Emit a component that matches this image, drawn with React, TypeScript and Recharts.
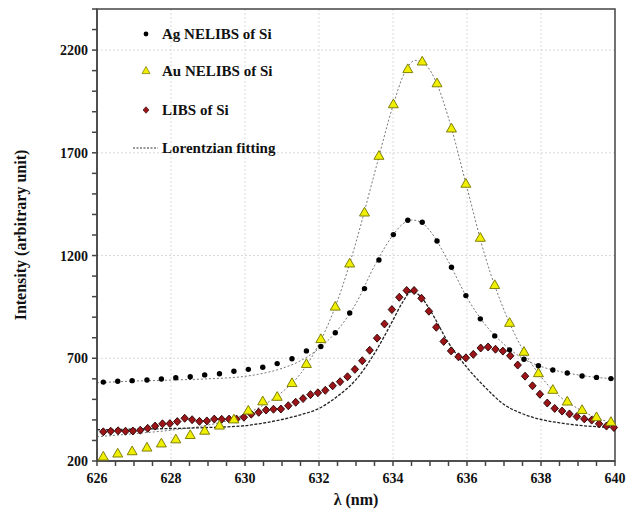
import {
  ComposedChart, Scatter, Line, XAxis, YAxis, CartesianGrid, ReferenceArea, Legend,
} from 'recharts';

// wavelength grid shared by the Ag and Au NELIBS measurements (nm)
const NELIBS_WAVELENGTH = [
  626.17, 626.56, 626.95, 627.35, 627.74, 628.13, 628.52, 628.91, 629.31, 629.70,
  630.09, 630.48, 630.87, 631.27, 631.66, 632.05, 632.44, 632.83, 633.23, 633.62,
  634.01, 634.40, 634.79, 635.19, 635.58, 635.97, 636.36, 636.75, 637.15, 637.54,
  637.93, 638.32, 638.71, 639.11, 639.50, 639.89,
];
const AG_INTENSITY = [
  584, 588, 591, 594, 599, 605, 610, 619, 625, 637,
  646, 656, 674, 698, 736, 757, 824, 920, 1039, 1178,
  1302, 1372, 1362, 1271, 1143, 1005, 892, 809, 741, 695,
  664, 643, 628, 614, 607, 601,
];
const AU_INTENSITY = [
  220, 235, 246, 264, 284, 304, 325, 346, 371, 401,
  444, 489, 511, 578, 671, 792, 950, 1160, 1408, 1684,
  1935, 2106, 2143, 2037, 1817, 1548, 1285, 1055, 871, 730,
  626, 545, 488, 447, 412, 389,
];

const LIBS_WAVELENGTH = [
  626.17, 626.37, 626.57, 626.77, 626.97, 627.17, 627.37, 627.57, 627.77, 627.97,
  628.17, 628.37, 628.57, 628.77, 628.97, 629.17, 629.37, 629.57, 629.77, 629.97,
  630.17, 630.37, 630.57, 630.77, 630.97, 631.17, 631.37, 631.57, 631.77, 631.97,
  632.17, 632.37, 632.57, 632.77, 632.97, 633.17, 633.37, 633.57, 633.77, 633.97,
  634.17, 634.37, 634.57, 634.77, 634.97, 635.17, 635.37, 635.57, 635.77, 635.97,
  636.17, 636.37, 636.57, 636.77, 636.97, 637.17, 637.37, 637.57, 637.77, 637.97,
  638.17, 638.37, 638.57, 638.77, 638.97, 639.17, 639.37, 639.57, 639.77, 639.97,
];
const LIBS_INTENSITY = [
  342, 345, 347, 345, 346, 350, 359, 370, 381, 382,
  392, 408, 401, 393, 395, 404, 403, 404, 404, 413,
  428, 437, 448, 452, 453, 469, 486, 504, 523, 532,
  544, 566, 586, 610, 646, 688, 739, 798, 867, 937,
  997, 1030, 1030, 992, 929, 851, 782, 736, 707, 702,
  719, 750, 755, 744, 735, 712, 667, 613, 566, 525,
  482, 456, 443, 429, 416, 405, 399, 381, 370, 363,
];

// Lorentzian fit curves
const AG_FIT_WAVELENGTH = [626, 627, 628, 629, 630, 630.5, 631, 631.5, 632, 632.5, 633, 633.5, 634, 634.25, 634.5, 634.75, 635, 635.5, 636, 636.5, 637, 637.5, 638, 638.5, 639, 639.5, 640];
const AG_FIT_INTENSITY = [581, 589, 594, 600, 612, 627, 651, 688, 748, 837, 967, 1150, 1300, 1352, 1373, 1363, 1320, 1170, 995, 862, 768, 700, 660, 636, 619, 607, 600];

const AU_FIT_WAVELENGTH = [626, 627, 628, 629, 629.5, 630, 630.5, 631, 631.5, 632, 632.5, 633, 633.5, 634, 634.3, 634.6, 634.9, 635.2, 635.5, 636, 636.5, 637, 637.5, 638, 638.5, 639, 639.5, 640];
const AU_FIT_INTENSITY = [318, 333, 350, 375, 395, 428, 472, 535, 625, 770, 980, 1265, 1600, 1930, 2085, 2150, 2125, 2030, 1870, 1530, 1190, 935, 745, 610, 515, 455, 410, 382];

const LIBS_FIT_WAVELENGTH = [626, 627, 628, 629, 630, 630.5, 631, 631.5, 632, 632.5, 633, 633.5, 634, 634.25, 634.5, 634.75, 635, 635.5, 636, 636.5, 637, 637.5, 638, 638.5, 639, 639.5, 640];
const LIBS_FIT_INTENSITY = [352, 355, 358, 363, 372, 385, 402, 425, 456, 515, 596, 724, 886, 970, 1024, 1000, 935, 775, 655, 557, 475, 430, 402, 386, 374, 367, 363];

const X_TICKS = [626, 626.5, 627, 627.5, 628, 628.5, 629, 629.5, 630, 630.5, 631, 631.5, 632, 632.5, 633, 633.5, 634, 634.5, 635, 635.5, 636, 636.5, 637, 637.5, 638, 638.5, 639, 639.5, 640];
const X_LABELS = [626, 628, 630, 632, 634, 636, 638, 640];
const Y_TICKS = [200, 300, 400, 500, 600, 700, 800, 900, 1000, 1100, 1200, 1300, 1400, 1500, 1600, 1700, 1800, 1900, 2000, 2100, 2200, 2300, 2400];
const Y_LABELS = [200, 700, 1200, 1700, 2200];

const LEGEND_LABELS = ['Ag NELIBS of Si', 'Au NELIBS of Si', 'LIBS of Si', 'Lorentzian fitting'];

const pairs = (xs: number[], ys: number[]) => xs.map((x, i) => ({ x, y: ys[i] }));

const agData = pairs(NELIBS_WAVELENGTH, AG_INTENSITY);
const auData = pairs(NELIBS_WAVELENGTH, AU_INTENSITY);
const libsData = pairs(LIBS_WAVELENGTH, LIBS_INTENSITY);
const agFit = pairs(AG_FIT_WAVELENGTH, AG_FIT_INTENSITY);
const auFit = pairs(AU_FIT_WAVELENGTH, AU_FIT_INTENSITY);
const libsFit = pairs(LIBS_FIT_WAVELENGTH, LIBS_FIT_INTENSITY);

const FONT = '"Liberation Serif", "Times New Roman", serif';
const AXIS_COLOR = '#444';

const tickStyle = { fontSize: 14, fontWeight: 'bold', fill: '#111', fontFamily: FONT };

function DotShape({ cx, cy }: any) {
  return <circle cx={cx} cy={cy} r={2.7} fill="#000" />;
}

function TriangleShape({ cx, cy }: any) {
  return (
    <polygon
      points={`${cx},${cy - 5.5} ${cx + 5},${cy + 3.2} ${cx - 5},${cy + 3.2}`}
      fill="#f0ef00"
      stroke="#80800a"
      strokeWidth={1}
    />
  );
}

function DiamondShape({ cx, cy }: any) {
  return (
    <polygon
      points={`${cx},${cy - 4} ${cx + 3.7},${cy} ${cx},${cy + 4} ${cx - 3.7},${cy}`}
      fill="#9c1418"
      stroke="#220000"
      strokeWidth={0.9}
    />
  );
}

function renderLegend() {
  const rowY = [18, 55, 94, 132];
  const textStyle = { fontSize: 15, fontWeight: 'bold' as const, fontFamily: FONT, fill: '#111' };
  return (
    <svg width={220} height={150}>
      <circle cx={21} cy={rowY[0]} r={2.4} fill="#000" />
      <polygon points={`21,${rowY[1] - 4.5} 25,${rowY[1] + 2.6} 17,${rowY[1] + 2.6}`} fill="#f0ef00" stroke="#80800a" strokeWidth={0.8} />
      <polygon points={`21,${rowY[2] - 3.3} 24,${rowY[2]} 21,${rowY[2] + 3.3} 18,${rowY[2]}`} fill="#9c1418" stroke="#220000" strokeWidth={0.6} />
      <line x1={8} x2={33} y1={rowY[3]} y2={rowY[3]} stroke="#333" strokeWidth={1} strokeDasharray="2 1.5" />
      {LEGEND_LABELS.map((label, i) => (
        <text key={label} x={37} y={rowY[i]} dominantBaseline="central" style={textStyle}>
          {label}
        </text>
      ))}
    </svg>
  );
}

export default function App() {
  return (
    <div style={{ position: 'absolute', left: 0, top: 0, background: '#fff' }}>
      <ComposedChart width={635} height={512} margin={{ top: 9, right: 20, bottom: 6, left: 15 }}>
        <CartesianGrid
          stroke="#dadada"
          strokeDasharray="2 2"
          horizontalValues={Y_LABELS.slice(1)}
          verticalValues={X_LABELS.slice(1, -1)}
        />
        <XAxis
          dataKey="x"
          type="number"
          domain={[626, 640]}
          ticks={X_TICKS}
          interval={0}
          tickFormatter={(v) => (X_LABELS.includes(v) ? String(v) : '')}
          tick={tickStyle}
          tickSize={5}
          tickMargin={7}
          height={45}
          stroke={AXIS_COLOR}
          strokeWidth={1.5}
          label={{ value: 'λ (nm)', position: 'insideBottom', offset: 1, style: { fontSize: 16, fontWeight: 'bold', fontFamily: FONT, fill: '#111' } }}
        />
        <YAxis
          dataKey="y"
          type="number"
          domain={[200, 2400]}
          ticks={Y_TICKS}
          interval={0}
          tickFormatter={(v) => (Y_LABELS.includes(v) ? String(v) : '')}
          tick={tickStyle}
          tickSize={5}
          tickMargin={4}
          width={82}
          stroke={AXIS_COLOR}
          strokeWidth={1.5}
          label={{ value: 'Intensity (arbitrary unit)', angle: -90, position: 'insideLeft', offset: 5, style: { textAnchor: 'middle', fontSize: 16, fontWeight: 'bold', fontFamily: FONT, fill: '#111' } }}
        />
        <ReferenceArea x1={626} x2={640} y1={200} y2={2400} fill="none" fillOpacity={0} stroke={AXIS_COLOR} strokeWidth={1.5} />
        <Legend
          layout="horizontal"
          verticalAlign="middle"
          align="center"
          wrapperStyle={{ top: 16, left: 125, width: 220 }}
          content={renderLegend}
        />
        <Line data={agFit} dataKey="y" type="monotone" stroke="#777" strokeWidth={1} strokeDasharray="2 2" dot={false} isAnimationActive={false} />
        <Line data={auFit} dataKey="y" type="monotone" stroke="#777" strokeWidth={1} strokeDasharray="2 2" dot={false} isAnimationActive={false} />
        <Line data={libsFit} dataKey="y" type="monotone" stroke="#222" strokeWidth={1.3} strokeDasharray="3 1.5" dot={false} isAnimationActive={false} />
        <Scatter data={libsData} dataKey="y" shape={DiamondShape} isAnimationActive={false} />
        <Scatter data={auData} dataKey="y" shape={TriangleShape} isAnimationActive={false} />
        <Scatter data={agData} dataKey="y" shape={DotShape} isAnimationActive={false} />
      </ComposedChart>
    </div>
  );
}
